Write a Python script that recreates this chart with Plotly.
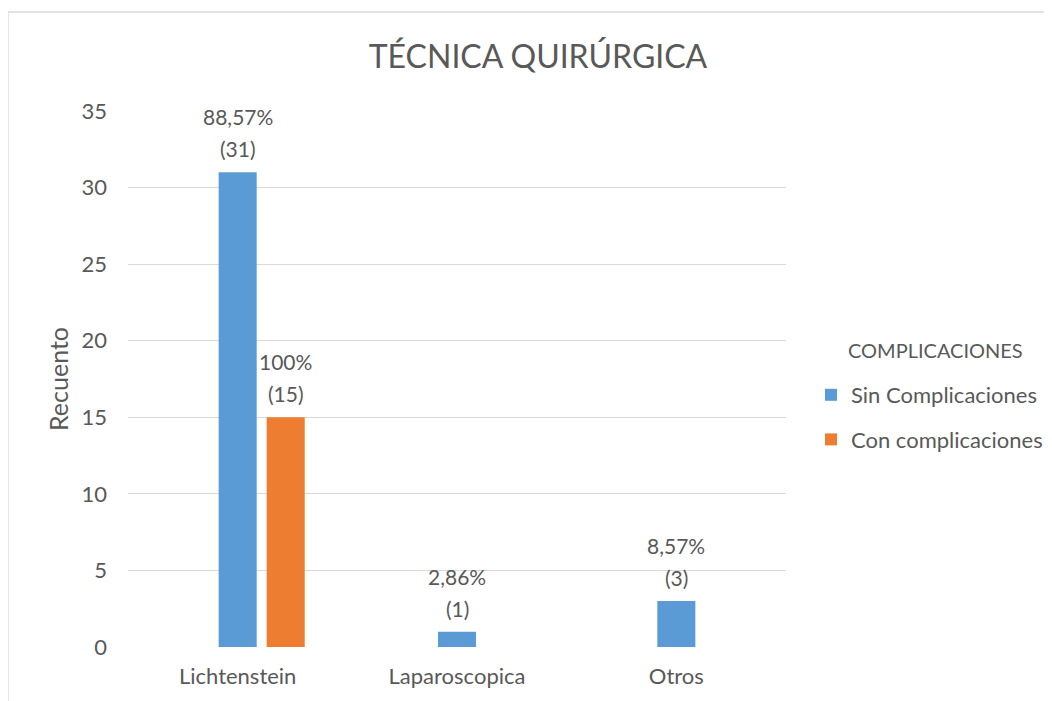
import plotly.graph_objects as go

categories = ["Lichtenstein", "Laparoscopica", "Otros"]
sin_values = [31, 1, 3]
con_values = [15, 0, 0]
sin_pct = ["88,57%", "2,86%", "8,57%"]
con_pct = ["100%", "", ""]
series_names = ["Sin Complicaciones", "Con complicaciones"]
legend_title = "COMPLICACIONES"
y_ticks = [0, 5, 10, 15, 20, 25, 30, 35]

FONT = "Lato"
TXT = "#595959"
BLUE = "#5B9BD5"
ORANGE = "#ED7D31"
BW = 0.1735
SHIFT = 0.219

W, H = 1044, 693
L, R, T, B = 120, 266, 103, 54
PW, PH = W - L - R, H - T - B

xpos = list(range(len(categories)))

fig = go.Figure()
fig.add_trace(go.Bar(
    x=xpos, y=sin_values, name=series_names[0], width=BW,
    marker=dict(color=BLUE, line=dict(width=0)), legendgroup="a",
))
fig.add_trace(go.Bar(
    x=[p + SHIFT for p in xpos], y=con_values, name=series_names[1], width=BW,
    marker=dict(color=ORANGE, line=dict(width=0)), legendgroup="b",
))

annotations = []
for xs, vals, pcts in [(xpos, sin_values, sin_pct), ([p + SHIFT for p in xpos], con_values, con_pct)]:
    for x, v, p in zip(xs, vals, pcts):
        if v == 0:
            continue
        annotations.append(dict(x=x, y=v, xref="x", yref="y", text=f"({v})", showarrow=False,
                                yanchor="bottom", yshift=9, font=dict(family=FONT, size=21, color=TXT)))
        annotations.append(dict(x=x, y=v, xref="x", yref="y", text=p, showarrow=False,
                                yanchor="bottom", yshift=41, font=dict(family=FONT, size=21, color=TXT)))

annotations.append(dict(x=(927 - L) / PW, y=(H - B - 342) / PH, xref="paper", yref="paper",
                        text=legend_title, showarrow=False, xanchor="center", yanchor="middle",
                        font=dict(family=FONT, size=20, color=TXT)))

fig.update_layout(
    width=W, height=H,
    paper_bgcolor="white", plot_bgcolor="white",
    margin=dict(l=L, r=R, t=T, b=B, autoexpand=False),
    barmode="overlay",
    font=dict(family=FONT, color=TXT, size=21),
    title=dict(text="TÉCNICA QUIRÚRGICA", x=530/W, xanchor="center", xref="container",
               y=1 - 49/H, yanchor="middle", yref="container",
               font=dict(family=FONT, size=32, color=TXT)),
    xaxis=dict(range=[-0.5, 2.5], tickvals=xpos, ticktext=categories, showgrid=False,
               zeroline=False, showline=False, ticks="", ticklabelstandoff=14, automargin=False,
               tickfont=dict(size=22, color=TXT)),
    yaxis=dict(range=[0, 35], tickvals=y_ticks, showgrid=True, gridcolor="#D9D9D9", gridwidth=1.3,
               zeroline=False, showline=False, ticks="", ticklabelstandoff=20, automargin=False,
               tickfont=dict(size=22, color=TXT),
               title=dict(text="Recuento", standoff=5, font=dict(size=25, color=TXT))),
    legend=dict(x=(803 - L) / PW, xanchor="left", y=(H - B - 366) / PH, yanchor="top",
                font=dict(size=22, color=TXT), tracegroupgap=13, traceorder="grouped",
                itemclick=False),
    annotations=annotations,
    shapes=[dict(type="rect", xref="paper", yref="paper", x0=(0 - L) / PW, x1=2.0,
                 y0=-1.0, y1=(H - B - 4) / PH, line=dict(color="#D9D9D9", width=1.3), layer="below")],
)

fig.write_html("out.html")
